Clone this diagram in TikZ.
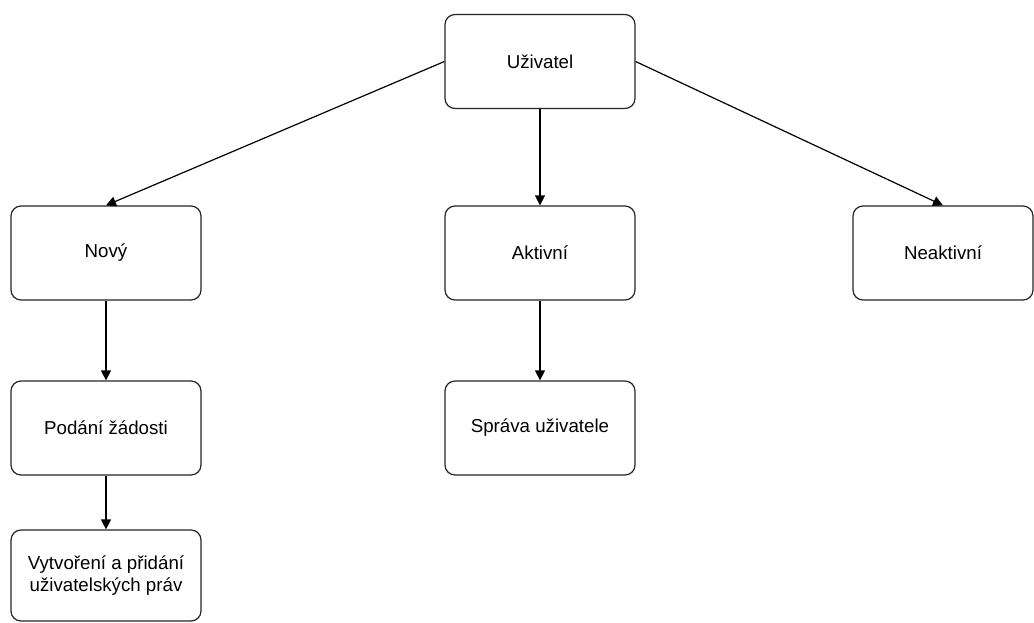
\documentclass[tikz,border=0pt]{standalone}
\usepackage{fontspec}
\setmainfont{Liberation Sans}
\usetikzlibrary{arrows.meta}
\begin{document}
\begin{tikzpicture}[x=1pt,y=-1pt,
  box/.style={draw=black!85,line width=1.2pt,rounded corners=10pt,fill=white,
    minimum width=190pt,minimum height=94pt,inner sep=2pt,align=center,
    font=\fontsize{18.7}{22}\selectfont,anchor=center},
  conn/.style={draw=black,line width=1.2pt,-{Triangle[length=10pt,width=10pt]}}]
\useasboundingbox (0,0) rectangle (1034,622);
\node[box] (u) at (540,61.5) {Uživatel};
\node[box] (n) at (106,253) {Nový};
\node[box] (a) at (540,253) {Aktivní};
\node[box,minimum width=180pt] (ne) at (943,253) {Neaktivní};
\node[box] (p) at (106,428) {Podání žádosti};
\node[box,minimum height=91pt] (v) at (106,575.5) {Vytvoření a přidání\\uživatelských práv};
\node[box] (s) at (540,428) {Správa uživatele};
\draw[conn] (u.west) -- (n.north);
\draw[conn] (u.east) -- (ne.north);
\draw[conn] (u.south) -- (a.north);
\draw[conn] (n.south) -- (p.north);
\draw[conn] (p.south) -- (v.north);
\draw[conn] (a.south) -- (s.north);
\end{tikzpicture}
\end{document}
